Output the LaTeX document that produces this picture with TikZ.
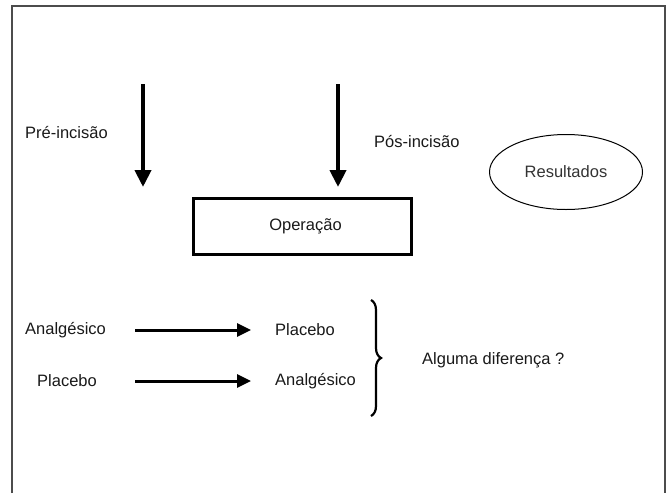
\documentclass[tikz,border=0pt]{standalone}
\usepackage{fontspec}
\setmainfont{Liberation Sans}
\usetikzlibrary{arrows.meta,shapes.geometric,decorations.pathreplacing}
\begin{document}
\begin{tikzpicture}[x=1pt,y=-1pt,
  lbl/.style={font=\fontsize{16.5}{20}\selectfont, text=black!90, inner sep=0pt},
  bigarrow/.style={line width=4pt, -{Triangle[length=17pt,width=16pt]}},
  rowarrow/.style={line width=3pt, -{Triangle[length=14pt,width=13pt]}},
  framestyle/.style={line width=1.8pt, draw=black!70}]
\useasboundingbox (0,0) rectangle (671,493);
% frame
\draw[framestyle] (12,493) -- (12,6) -- (665,6) -- (665,493);
% top arrows
\coordinate (a1s) at (143,84);
\coordinate (a1e) at (143,187);
\coordinate (a2s) at (338,84);
\coordinate (a2e) at (338,187);
\draw[bigarrow] (a1s) -- (a1e);
\draw[bigarrow] (a2s) -- (a2e);
\node[lbl, anchor=west] (pre) at (25,133) {Pré-incisão};
\node[lbl, anchor=west] (pos) at (374,142) {Pós-incisão};
% operation box
\node[lbl, draw, line width=2.5pt, minimum width=218pt, minimum height=56pt, text width=218pt, align=center] (op) at (302.5,226.5) {\hspace*{6pt}Operação};
% results ellipse
\node[lbl, draw, ellipse, line width=1pt, minimum width=153pt, minimum height=75pt, text=black!80] (res) at (566,172) {Resultados};
% rows
\node[lbl, anchor=west] (an1) at (25,330) {Analgésico};
\node[lbl, anchor=west] (pl1) at (275,330) {Placebo};
\node[lbl, anchor=west] (pl2) at (37,381) {Placebo};
\node[lbl, anchor=west] (an2) at (275,381) {Analgésico};
\coordinate (r1s) at (135,330);
\coordinate (r1e) at (251,330);
\coordinate (r2s) at (135,381);
\coordinate (r2e) at (251,381);
\draw[rowarrow] (r1s) -- (r1e);
\draw[rowarrow] (r2s) -- (r2e);
% brace
\coordinate (bt) at (371,300);
\coordinate (bb) at (371,416);
\draw[line width=2.2pt, decorate, decoration={brace, amplitude=10pt}] (bt) -- (bb);
\node[lbl, anchor=west] (dif) at (422,360) {Alguma diferença ?};
\end{tikzpicture}
\end{document}
